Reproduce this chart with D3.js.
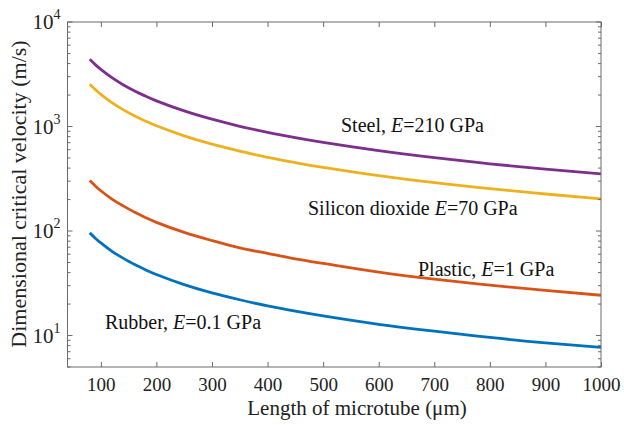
<!DOCTYPE html>
<html>
<head>
<meta charset="utf-8">
<script src="https://cdn.jsdelivr.net/npm/d3@7"></script>
<style>
  body { margin: 0; background: #fff; }
  svg text { font-family: "Liberation Serif", "Times New Roman", serif; }
</style>
</head>
<body>
<svg id="chart" style="width:624px;height:425px"></svg>
<script>
// lengths (um)
var lengths = [80, 90, 100, 120, 140, 160, 180, 200, 250, 300, 350, 400, 450, 500, 600, 700, 800, 900, 1000];
// critical velocity (m/s) for each material
var steel   = [4400, 3910, 3520, 2930, 2510, 2200, 1955, 1760, 1410, 1175, 1005, 880, 782, 704, 587, 503, 440, 391, 352];
var silica  = [2540, 2258, 2032, 1693, 1451, 1270, 1129, 1016, 813, 677, 581, 508, 452, 406, 339, 290, 254, 226, 203];
var plastic = [304, 270, 243, 202, 174, 152, 135, 121, 97, 81, 69, 61, 54, 49, 40.5, 34.7, 30.4, 27, 24.3];
var rubber  = [96, 85.4, 76.9, 64, 55, 48, 42.7, 38.4, 30.7, 25.6, 22, 19.2, 17.1, 15.4, 12.8, 11, 9.6, 8.5, 7.7];
var xTicks = [100, 200, 300, 400, 500, 600, 700, 800, 900, 1000];
var yTicks = [10, 100, 1000, 10000];

var series = [
  {name: "rubber", values: rubber, color: "#0072BD"},
  {name: "plastic", values: plastic, color: "#D95319"},
  {name: "silica", values: silica, color: "#EDB120"},
  {name: "steel", values: steel, color: "#7E2F8E"}
];

var svg = d3.select('svg');
var width = parseFloat(svg.node().style.width);
var height = parseFloat(svg.node().style.height);
var margin = {top: 22, right: 23, bottom: 58, left: 67.5};
var axisColor = "#6b6b6b";

var xScale = d3.scaleLinear()
    .domain([40, 1000])
    .range([margin.left, width - margin.right]);

var yScale = d3.scaleLog()
    .domain([5, 10000])
    .range([height - margin.bottom, margin.top]);

// minor ticks on the log axis
var minor = [];
[1, 10, 100, 1000].forEach(function(dec){
  for (var k = 2; k <= 9; k++) {
    var v = k * dec;
    if (v >= 5 && v <= 10000) minor.push(v);
  }
});

var plot = svg.append('g');

// curves
var line = d3.line()
    .x(function(d, i){ return xScale(lengths[i]); })
    .y(function(d){ return yScale(d); })
    .curve(d3.curveNatural);

plot.selectAll('path.curve')
  .data(series)
  .enter()
  .append('path')
  .attr('class', 'curve')
  .attr('fill', 'none')
  .attr('stroke', function(d){ return d.color; })
  .attr('stroke-width', 2.8)
  .attr('d', function(d){ return line(d.values); });

// box
var x0 = xScale.range()[0], x1 = xScale.range()[1];
var y0 = yScale.range()[0], y1 = yScale.range()[1];
plot.append('rect')
  .attr('x', x0).attr('y', y1)
  .attr('width', x1 - x0).attr('height', y0 - y1)
  .attr('fill', 'none')
  .attr('stroke', axisColor)
  .attr('stroke-width', 1);

// x axis (inward ticks, bottom and top)
var xAxis = svg.append('g')
  .attr('transform', 'translate(0,' + y0 + ')')
  .call(d3.axisBottom(xScale).tickValues(xTicks).tickSizeInner(-5).tickSizeOuter(0)
        .tickPadding(11).tickFormat(d3.format('d')));
xAxis.select('.domain').remove();
xAxis.selectAll('line').attr('stroke', axisColor);
xAxis.selectAll('text')
  .attr('font-size', 19)
  .attr('fill', '#222');

var xTop = svg.append('g')
  .attr('transform', 'translate(0,' + y1 + ')')
  .call(d3.axisTop(xScale).tickValues(xTicks).tickSizeInner(-5).tickSizeOuter(0).tickFormat(''));
xTop.select('.domain').remove();
xTop.selectAll('line').attr('stroke', axisColor);

// y axis ticks, left and right
[x0, x1].forEach(function(xp, side){
  var dir = side === 0 ? 1 : -1;
  svg.append('g').selectAll('line.major')
    .data(yTicks).enter().append('line')
    .attr('x1', xp).attr('x2', xp + dir * 5)
    .attr('y1', function(d){ return yScale(d); })
    .attr('y2', function(d){ return yScale(d); })
    .attr('stroke', axisColor);
  svg.append('g').selectAll('line.minor')
    .data(minor).enter().append('line')
    .attr('x1', xp).attr('x2', xp + dir * 3)
    .attr('y1', function(d){ return yScale(d); })
    .attr('y2', function(d){ return yScale(d); })
    .attr('stroke', axisColor);
});

// y tick labels 10^n
var yLab = svg.append('g').selectAll('text')
  .data(yTicks).enter().append('text')
  .attr('x', x0 - 7)
  .attr('y', function(d){ return yScale(d) + 7; })
  .attr('text-anchor', 'end')
  .attr('fill', '#222');
yLab.append('tspan')
  .attr('font-size', 21)
  .text('10');
yLab.append('tspan')
  .attr('font-size', 14)
  .attr('dy', -10)
  .text(function(d){ return Math.round(Math.log10(d)); });

// axis titles
svg.append('text')
  .attr('x', 357)
  .attr('y', 415)
  .attr('text-anchor', 'middle')
  .attr('font-size', 21)
  .attr('fill', '#222')
  .text('Length of microtube (\u03bcm)');

svg.append('text')
  .attr('transform', 'translate(26,194) rotate(-90)')
  .attr('text-anchor', 'middle')
  .attr('font-size', 22)
  .attr('fill', '#222')
  .text('Dimensional critical velocity (m/s)');

// annotations
var notes = [
  {pre: 'Steel, ', mod: '210 GPa', x: 341, y: 132},
  {pre: 'Silicon dioxide ', mod: '70 GPa', x: 308, y: 215},
  {pre: 'Plastic, ', mod: '1 GPa', x: 418, y: 276},
  {pre: 'Rubber, ', mod: '0.1 GPa', x: 105, y: 329}
];
var ann = svg.append('g').selectAll('text')
  .data(notes).enter().append('text')
  .attr('x', function(d){ return d.x; })
  .attr('y', function(d){ return d.y; })
  .attr('font-size', 20)
  .attr('fill', '#111');
ann.append('tspan').text(function(d){ return d.pre; });
ann.append('tspan').attr('font-style', 'italic').text('E');
ann.append('tspan').text(function(d){ return '=' + d.mod; });
</script>
</body>
</html>
